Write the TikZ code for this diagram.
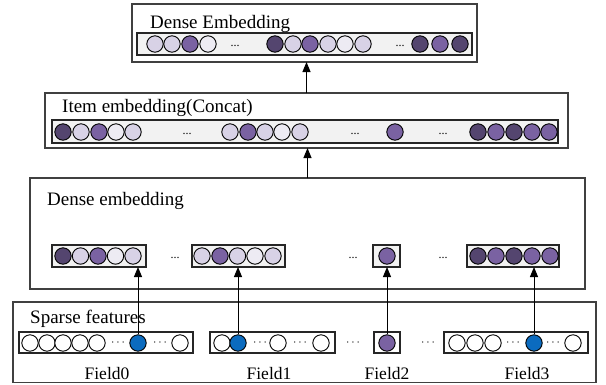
\documentclass[tikz,border=0pt]{standalone}
\usepackage{fontspec}
\setmainfont{Liberation Serif}
\usetikzlibrary{arrows.meta}
\definecolor{cD}{HTML}{54456F}
\definecolor{cM}{HTML}{7A62A2}
\definecolor{cL}{HTML}{D8D2E6}
\definecolor{cV}{HTML}{EDEBF3}
\definecolor{cB}{HTML}{0B6BBF}
\definecolor{cW}{HTML}{FFFFFF}
\definecolor{barfill}{HTML}{F2F2F2}
\definecolor{boxgray}{HTML}{404040}
\newcommand\rectnode[6]{\node[#2, minimum width={#5-#3}, minimum height={#6-#4}] (#1) at ({(#3+#5)/2},{(#4+#6)/2}) {};}
\newcommand\dotrow[3]{\foreach \xx/\cc [count=\i] in {#3} {\node[dot, fill=\cc] (#1\i) at (\xx,#2) {};}}
\begin{document}
\begin{tikzpicture}[x=1pt,y=-1pt,
  outerbox/.style={draw=boxgray, line width=1.4pt, fill=white, inner sep=0pt, outer sep=0pt},
  barbox/.style={draw=black!85, line width=1.1pt, fill=barfill, inner sep=0pt, outer sep=0pt},
  sbar/.style={draw=black!85, line width=1.1pt, fill=white, inner sep=0pt, outer sep=0pt},
  dot/.style={circle, draw=black, line width=0.9pt, minimum size=16.4pt, inner sep=0pt},
  ttl/.style={anchor=base west, font=\fontsize{19}{22}\selectfont, inner sep=0pt},
  fld/.style={anchor=base, font=\fontsize{17.5}{20}\selectfont, inner sep=0pt},
  ell/.style={font=\fontsize{12}{13}\selectfont, inner sep=0pt},
  arr/.style={-{Triangle[length=10pt,width=8pt]}, line width=1pt}]
\useasboundingbox (0,0) rectangle (606,384);

% top box
\rectnode{top}{outerbox}{132}{4}{477}{62}
\node[ttl] (ttop) at (150,28) {Dense Embedding};
\rectnode{topbar}{barbox}{137}{33}{472}{55}
\dotrow{t}{44}{155/cL,172/cL,190/cM,208/cV,275/cD,293/cL,310/cM,328/cL,345/cV,363/cL,420/cD,440/cM,460/cD}
\node[ell] (te1) at (235,46) {...};
\node[ell] (te2) at (400,46) {...};

% item box
\rectnode{item}{outerbox}{45}{93}{568}{148}
\node[ttl] (titem) at (62,112) {Item embedding(Concat)};
\rectnode{itembar}{barbox}{52}{120}{558}{143}
\dotrow{i}{132}{63/cD,81/cL,99/cM,116/cV,133/cL,230/cL,248/cM,265/cL,282/cV,300/cL,395/cM,478/cD,496/cM,514/cD,532/cM,549/cM}
\node[ell] (ie1) at (187,134) {...};
\node[ell] (ie2) at (355,134) {...};
\node[ell] (ie3) at (443,134) {...};

% dense box
\rectnode{dense}{outerbox}{30}{178}{585}{289}
\node[ttl] (tdense) at (47,205) {Dense embedding};
\rectnode{d1}{barbox}{52}{245}{146}{267}
\rectnode{d2}{barbox}{192}{245}{285}{267}
\rectnode{d3}{barbox}{373}{245}{400}{267}
\rectnode{d4}{barbox}{467}{245}{559}{267}
\dotrow{da}{256}{63/cD,80.5/cL,98/cM,115.5/cV,133/cL}
\dotrow{db}{256}{202/cL,220/cM,237.5/cL,255/cV,273/cL}
\dotrow{dc}{256}{387/cM}
\dotrow{dd}{256}{478/cD,496/cM,514/cD,532/cM,550/cM}
\node[ell] (de1) at (175,258) {...};
\node[ell] (de2) at (353,258) {...};
\node[ell] (de3) at (443,258) {...};

% sparse box
\rectnode{sparse}{outerbox}{13}{302}{596}{382.5}
\node[ttl] (tsparse) at (30,323) {Sparse features};
\rectnode{s0}{sbar}{19}{332}{193}{353}
\rectnode{s1}{sbar}{210}{332}{335}{353}
\rectnode{s2}{sbar}{374}{332}{400}{353}
\rectnode{s3}{sbar}{444}{332}{588}{353}
\dotrow{sa}{343}{30/cW,47/cW,63/cW,80/cW,97/cW,138/cB,180/cW}
\dotrow{sb}{343}{222/cW,238/cB,278/cW,321/cW}
\dotrow{sc}{343}{387/cM}
\dotrow{sd}{343}{457/cW,475/cW,493/cW,534/cB,573/cW}
\node[ell] (se1) at (118,343) {$\cdots$};
\node[ell] (se2) at (160,343) {$\cdots$};
\node[ell] (se3) at (260,343) {$\cdots$};
\node[ell] (se4) at (300,343) {$\cdots$};
\node[ell] (se5) at (353,343) {$\cdots$};
\node[ell] (se6) at (428,343) {$\cdots$};
\node[ell] (se7) at (513,343) {$\cdots$};
\node[ell] (se8) at (553,343) {$\cdots$};
\node[fld] (f0) at (107,379) {Field0};
\node[fld] (f1) at (269,379) {Field1};
\node[fld] (f2) at (387,379) {Field2};
\node[fld] (f3) at (527,379) {Field3};

% arrows
\draw[arr] (item.north) -- (item.north |- top.south);
\draw[arr] (dense.north) -- (dense.north |- item.south);
\draw[arr] (sa6.north) -- (sa6.north |- d1.south);
\draw[arr] (sb2.north) -- (sb2.north |- d2.south);
\draw[arr] (sc1.north) -- (sc1.north |- d3.south);
\draw[arr] (sd4.north) -- (sd4.north |- d4.south);
\end{tikzpicture}
\end{document}
